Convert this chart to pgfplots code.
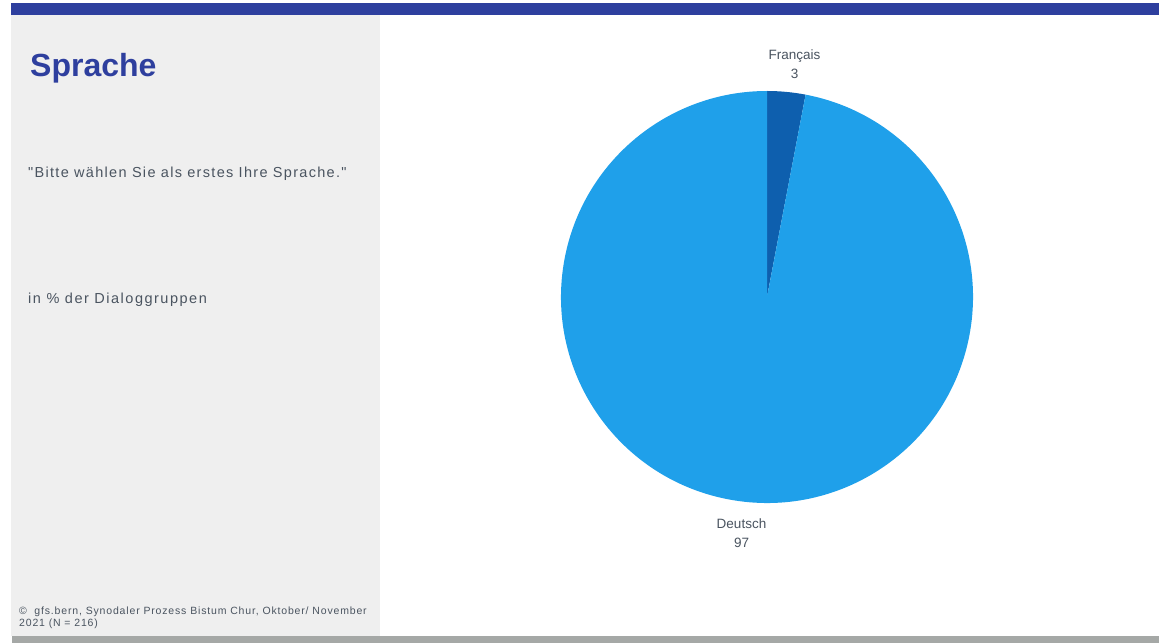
\documentclass[border=0pt]{standalone}
\usepackage{fontspec}
\setmainfont{Liberation Sans}[Ligatures=TeXOff]
\usepackage{pgfplots}
\usepackage{pgfplotstable}
\pgfplotsset{compat=1.18}
\definecolor{topblue}{HTML}{2E3F9E}
\definecolor{panelgrey}{HTML}{EFEFEF}
\definecolor{bottomgrey}{HTML}{A5A8A6}
\definecolor{txt}{HTML}{4A5460}
\definecolor{deutsch}{HTML}{1FA0EA}
\definecolor{francais}{HTML}{0E5FAE}

\pgfplotstableread{
label value
Deutsch 97
Francais 3
}\piedata
\pgfplotstablegetelem{0}{value}\of\piedata \let\vDe\pgfplotsretval
\pgfplotstablegetelem{1}{value}\of\piedata \let\vFr\pgfplotsretval
\pgfmathsetmacro\aFr{3.6*\vFr}
\pgfmathsetmacro\aDe{3.6*\vDe}
\pgfmathsetmacro\endFr{90-\aFr}
\pgfmathsetmacro\endDe{\endFr-\aDe}

\begin{document}%
\begin{tikzpicture}
\begin{axis}[width=1159pt,height=643pt,scale only axis,
  xmin=0,xmax=1159,ymin=0,ymax=643,hide axis,clip=false]
% background and frame
\fill[white] (axis cs:0,0) rectangle (axis cs:1159,643);
\fill[panelgrey] (axis cs:11,628) rectangle (axis cs:380,7);
\fill[topblue] (axis cs:11,640) rectangle (axis cs:1159,628);
\fill[bottomgrey] (axis cs:12,7) rectangle (axis cs:1159,0);
% pie
\fill[francais] (axis cs:767,346) -- ++(90:206pt) arc[start angle=90,end angle=\endFr,radius=206pt] -- cycle;
\fill[deutsch] (axis cs:767,346) -- ++(\endFr:206pt) arc[start angle=\endFr,end angle=\endDe,radius=206pt] -- cycle;
% pie labels
\node[anchor=base,font=\fontsize{13.5}{16}\selectfont,text=txt,inner sep=0pt] at (axis cs:794.5,583) {Français};
\node[anchor=base,font=\fontsize{13.5}{16}\selectfont,text=txt,inner sep=0pt] at (axis cs:794.5,564) {\vFr};
\node[anchor=base,font=\fontsize{13.5}{16}\selectfont,text=txt,inner sep=0pt] at (axis cs:741.5,115) {Deutsch};
\node[anchor=base,font=\fontsize{13.5}{16}\selectfont,text=txt,inner sep=0pt] at (axis cs:741.5,96) {\vDe};
% left panel texts
\node[anchor=base west,font=\fontsize{32}{36}\selectfont\bfseries,text=topblue,inner sep=0pt] at (axis cs:30,566) {Sprache};
\node[anchor=base west,font=\fontsize{14.5}{16}\selectfont\addfontfeature{LetterSpace=9},text=txt,inner sep=0pt] at (axis cs:28,465) {"Bitte wählen Sie als erstes Ihre Sprache."};
\node[anchor=base west,font=\fontsize{14.5}{16}\selectfont\addfontfeature{LetterSpace=10.4},text=txt,inner sep=0pt] at (axis cs:28,339) {in \% der Dialoggruppen};
\node[anchor=base west,font=\fontsize{10.5}{12}\selectfont\addfontfeature{LetterSpace=8},text=txt,inner sep=0pt] at (axis cs:19,29) {©\ \ gfs.bern, Synodaler Prozess Bistum Chur, Oktober/ November};
\node[anchor=base west,font=\fontsize{10.5}{12}\selectfont\addfontfeature{LetterSpace=8},text=txt,inner sep=0pt] at (axis cs:19,17) {2021 (N = 216)};
\end{axis}
\end{tikzpicture}%
\end{document}
